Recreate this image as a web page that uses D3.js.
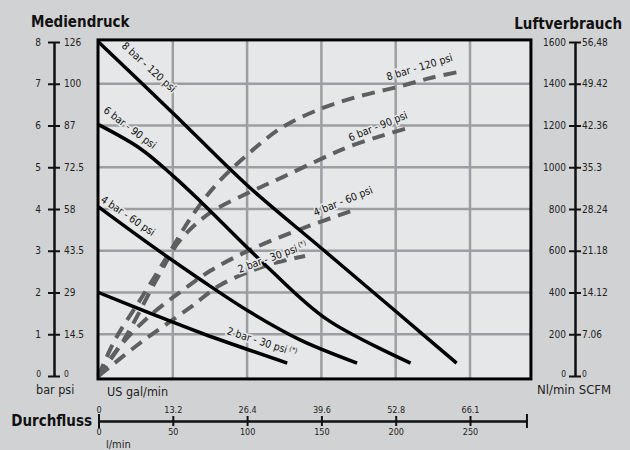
<!DOCTYPE html>
<html><head><meta charset="utf-8">
<script src="https://cdn.jsdelivr.net/npm/d3@7"></script>
<style>
html,body{margin:0;padding:0;background:#d1d2d4;}
svg{display:block;}
</style></head><body>
<svg id="c" width="630" height="450"></svg>
<script>
// ---- data ----
const flowLpm = [0, 50, 100, 150, 200, 250];
const flowGal = ["0", "13.2", "26.4", "39.6", "52.8", "66.1"];
const pressBar = [0, 1, 2, 3, 4, 5, 6, 7, 8];
const pressPsi = ["0", "14.5", "29", "43.5", "58", "72.5", "87", "100", "126"];
const airNl = [0, 200, 400, 600, 800, 1000, 1200, 1400, 1600];
const airScfm = ["0", "7.06", "14.12", "21.18", "28.24", "35.3", "42.36", "49.42", "56,48"];

// outlet pressure (bar) vs flow (l/min)
const press8 = [[0, 8], [50, 6.3], [100, 4.57], [150, 3.06], [200, 1.55], [241, 0.31]];
const press6 = [[0, 6.02], [28, 5.45], [50, 4.8], [69, 4.17], [114, 2.6], [154, 1.35], [210, 0.31]];
const press4 = [[0, 4.05], [35, 3.14], [69, 2.3], [102, 1.53], [136, 0.86], [174, 0.31]];
const press2 = [[0, 2.0], [35, 1.5], [69, 1.03], [127, 0.31]];

// air consumption (Nl/min) vs flow (l/min)
const air8 = [[0, 0], [11, 172], [28, 364], [46, 570], [62, 757], [79, 915], [100, 1059], [124, 1193], [151, 1284], [176, 1341], [201, 1384], [223, 1427], [242, 1456]];
const air6 = [[0, 0], [17, 172], [40, 474], [55, 651], [75, 781], [102, 881], [124, 953], [151, 1044], [168, 1097], [192, 1154], [211, 1193]];
const air4 = [[0, 0], [15, 148], [35, 292], [55, 402], [75, 503], [102, 604], [136, 704], [174, 800]];
const air2 = [[0, 0], [28, 158], [62, 330], [82, 436], [114, 532], [139, 575]];

const solidLabels = ["8 bar - 120 psi", "6 bar - 90 psi", "4 bar - 60 psi", "2 bar - 30 psi"];
const dashLabels = ["8 bar - 120 psi", "6 bar - 90 psi", "4 bar - 60 psi", "2 bar - 30 psi"];

// ---- drawing ----
const FONT = "'Liberation Sans Narrow','DejaVu Sans Condensed','Open Sans',sans-serif";
const svg = d3.select("#c").style("font-family", FONT);

const x = d3.scaleLinear().domain([0, 250]).range([98.5, 470]);
const y = d3.scaleLinear().domain([0, 8]).range([376, 42]);
const yAir = d3.scaleLinear().domain([0, 1600]).range([376, 42]);

const fx0 = x(0) - 0.5, fx1 = x(291), fy0 = y(8.05), fy1 = y(-0.07);

// plot background
svg.append("rect").attr("x", fx0).attr("y", fy0).attr("width", fx1 - fx0).attr("height", fy1 - fy0)
  .attr("fill", "#e6e7e8");

// grid
const grid = svg.append("g").attr("stroke", "#9c9ea1").attr("stroke-width", 2.5);
grid.selectAll(".gv").data(flowLpm.slice(1)).join("line")
  .attr("x1", d => x(d)).attr("x2", d => x(d)).attr("y1", fy0).attr("y2", fy1);
grid.selectAll(".gh").data(pressBar.slice(1, 8)).join("line")
  .attr("x1", fx0).attr("x2", fx1).attr("y1", d => y(d)).attr("y2", d => y(d));

// curves
const lineP = d3.line().x(d => x(d[0])).y(d => y(d[1])).curve(d3.curveCatmullRom.alpha(0.5));
const lineA = d3.line().x(d => x(d[0])).y(d => yAir(d[1])).curve(d3.curveCatmullRom.alpha(0.5));

const plot = svg.append("g");
plot.selectAll(".air").data([air8, air6, air4, air2]).join("path")
  .attr("d", lineA).attr("fill", "none").attr("stroke", "#5e5f61")
  .attr("stroke-width", 4).attr("stroke-dasharray", "13 8");
plot.selectAll(".pr").data([press8, press6, press4, press2]).join("path")
  .attr("d", lineP).attr("fill", "none").attr("stroke", "#000")
  .attr("stroke-width", 3.5);

// curve labels (positions in data units + rotation)
const solidPos = [[34, 7.4, 42], [21.2, 5.95, 37], [19.9, 3.84, 34], [110, 0.82, 18]];
const dashPos = [[216, 7.4, -17], [188, 5.98, -22], [164.5, 4.19, -22], [117, 2.85, -20]];

function addLabel(txt, p, star) {
  const t = svg.append("text")
    .attr("transform", `translate(${x(p[0])},${y(p[1])}) rotate(${p[2]})`)
    .attr("text-anchor", "middle").attr("dy", "0.35em")
    .attr("font-size", 10.5).attr("fill", "#111")
    .attr("stroke", "#e6e7e8").attr("stroke-width", 3).attr("paint-order", "stroke")
    .text(txt);
  if (star) {
    t.append("tspan").attr("font-size", 7).attr("dy", "-0.5em").attr("dx", 2).text("(*)");
  }
}
solidLabels.forEach((s, i) => addLabel(s, solidPos[i], i === 3));
dashLabels.forEach((s, i) => addLabel(s, dashPos[i], i === 3));

// frame
svg.append("rect").attr("x", fx0).attr("y", fy0).attr("width", fx1 - fx0).attr("height", fy1 - fy0)
  .attr("fill", "none").attr("stroke", "#000").attr("stroke-width", 3);

function styleAxis(g, fs) {
  g.attr("font-family", FONT).attr("font-size", fs);
  g.selectAll("path.domain").attr("stroke", "#111").attr("stroke-width", 2);
  g.selectAll(".tick line").attr("stroke", "#111").attr("stroke-width", 2);
  g.selectAll(".tick text").attr("fill", "#222");
}

// left axis (bar | psi)
const la = svg.append("g").attr("transform", "translate(54,0)")
  .call(d3.axisLeft(y).tickValues(pressBar).tickFormat(d3.format("d")).tickSizeInner(6).tickSizeOuter(0).tickPadding(7));
styleAxis(la, 10);
const la2 = svg.append("g").attr("transform", "translate(54,0)")
  .call(d3.axisRight(y).tickValues(pressBar).tickFormat((d, i) => pressPsi[i]).tickSizeInner(6).tickSizeOuter(0).tickPadding(4));
styleAxis(la2, 10);

// right axis (Nl/min | SCFM)
const ra = svg.append("g").attr("transform", "translate(575,0)")
  .call(d3.axisLeft(yAir).tickValues(airNl).tickFormat(d3.format("d")).tickSizeInner(6).tickSizeOuter(0).tickPadding(3));
styleAxis(ra, 10);
const ra2 = svg.append("g").attr("transform", "translate(575,0)")
  .call(d3.axisRight(yAir).tickValues(airNl).tickFormat((d, i) => airScfm[i]).tickSizeInner(6).tickSizeOuter(0).tickPadding(1));
styleAxis(ra2, 10);
// the zero labels sit a little raised and smaller in the reference
[la, la2, ra, ra2].forEach(g => g.selectAll(".tick").filter(d => d === 0).select("text")
  .attr("font-size", 8.5).attr("dy", "0.1em"));

// bottom flow axis
const xa = d3.scaleLinear().domain([0, 288]).range([x(0), x(288)]);
const ba = svg.append("g").attr("transform", "translate(0,421)")
  .call(d3.axisBottom(xa).tickValues(flowLpm).tickSizeInner(5).tickSizeOuter(7).tickPadding(3));
styleAxis(ba, 9);
const ba2 = svg.append("g").attr("transform", "translate(0,421)")
  .call(d3.axisTop(xa).tickValues(flowLpm).tickFormat((d, i) => flowGal[i]).tickSizeInner(5).tickSizeOuter(7).tickPadding(3));
styleAxis(ba2, 9);

// titles and unit labels
svg.append("text").attr("x", 31).attr("y", 27).attr("font-size", 15).attr("font-weight", "bold").attr("fill", "#111").text("Mediendruck");
svg.append("text").attr("x", 622).attr("y", 29).attr("text-anchor", "end").attr("font-size", 15).attr("font-weight", "bold").attr("fill", "#111").text("Luftverbrauch");
svg.append("text").attr("x", 92).attr("y", 426).attr("text-anchor", "end").attr("font-size", 15).attr("font-weight", "bold").attr("fill", "#111").text("Durchfluss");
svg.append("text").attr("x", 36).attr("y", 394).attr("font-size", 12.5).attr("fill", "#222").text("bar psi");
svg.append("text").attr("x", 107).attr("y", 396).attr("font-size", 12.5).attr("fill", "#222").text("US gal/min");
svg.append("text").attr("x", 537).attr("y", 394).attr("font-size", 13).attr("fill", "#222").text("Nl/min SCFM");
svg.append("text").attr("x", 106).attr("y", 448).attr("font-size", 11).attr("fill", "#222").text("l/min");
</script></body></html>
